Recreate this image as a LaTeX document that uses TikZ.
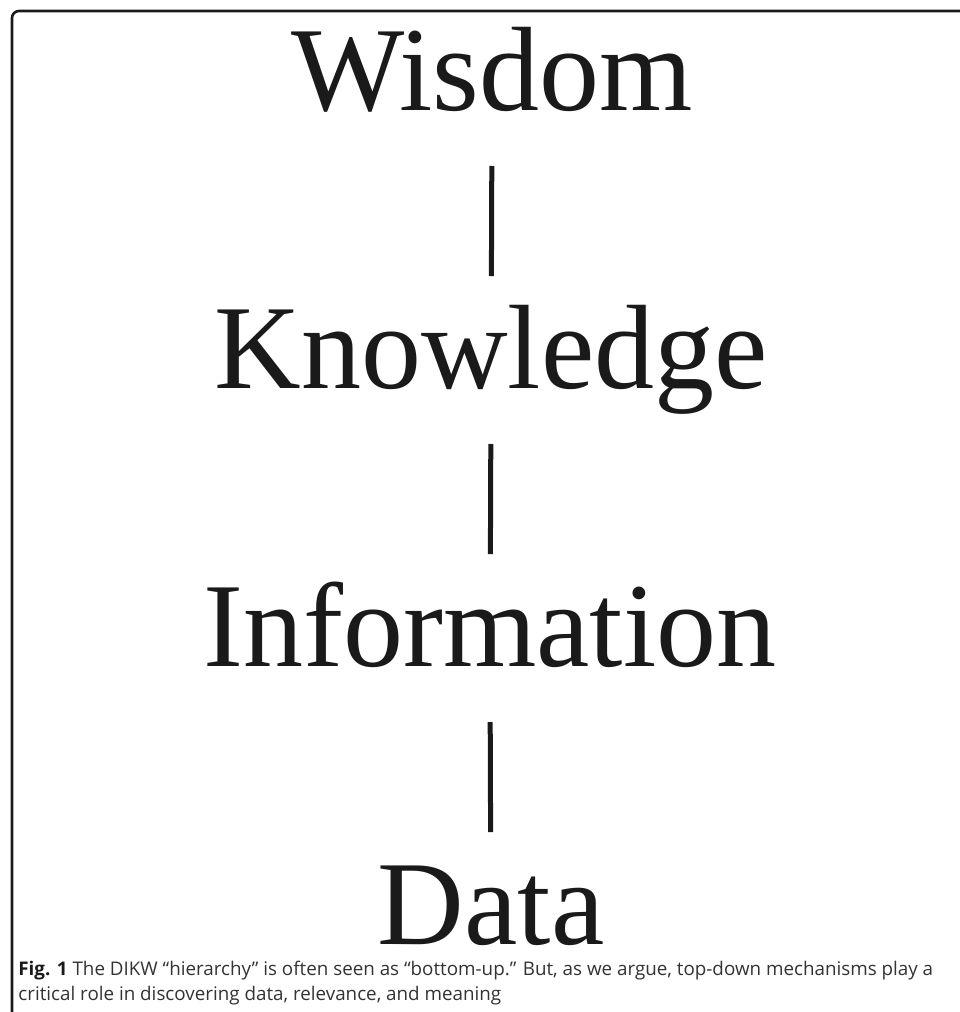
\documentclass[tikz,border=0pt]{standalone}
\usepackage{fontspec}
\setmainfont{Liberation Serif}
\newfontfamily\capfont{Open Sans}
\definecolor{ink}{HTML}{1A1A1A}
\definecolor{captext}{HTML}{333333}
\begin{document}
\begin{tikzpicture}[x=0.5pt, y=-0.5pt,
    level/.style={anchor=base, inner sep=0pt, text=ink, font=\fontsize{60}{60}\selectfont},
    link/.style={draw=ink, line width=2.5pt, shorten <=28pt, shorten >=56pt},
    frame/.style={draw=ink, line width=1.3pt, rounded corners=3.5pt}]
  \useasboundingbox (0,0) rectangle (959,1012);
  % frame
  \draw[frame] (12,1020) -- (12,11) -- (970,11);
  % levels
  \node[level] (wisdom) at (492,110) {Wisdom};
  \node[level] (knowledge) at (491,388) {Knowledge};
  \node[level] (information) at (490,666) {Information};
  \node[level] (data) at (491,944) {Data};
  \draw[link] (wisdom.base) -- (knowledge.base);
  \draw[link] (knowledge.base) -- (information.base);
  \draw[link] (information.base) -- (data.base);
  % caption (base = last line)
  \node[anchor=base west, inner sep=0pt, align=left, text=captext,
    font=\capfont\fontsize{9.4}{12.5}\selectfont] (caption) at (18,1000)
    {\textbf{\color{ink}Fig. 1} The DIKW “hierarchy” is often seen as “bottom-up.” But, as we argue, top-down mechanisms play a\\critical role in discovering data, relevance, and meaning};
\end{tikzpicture}
\end{document}
